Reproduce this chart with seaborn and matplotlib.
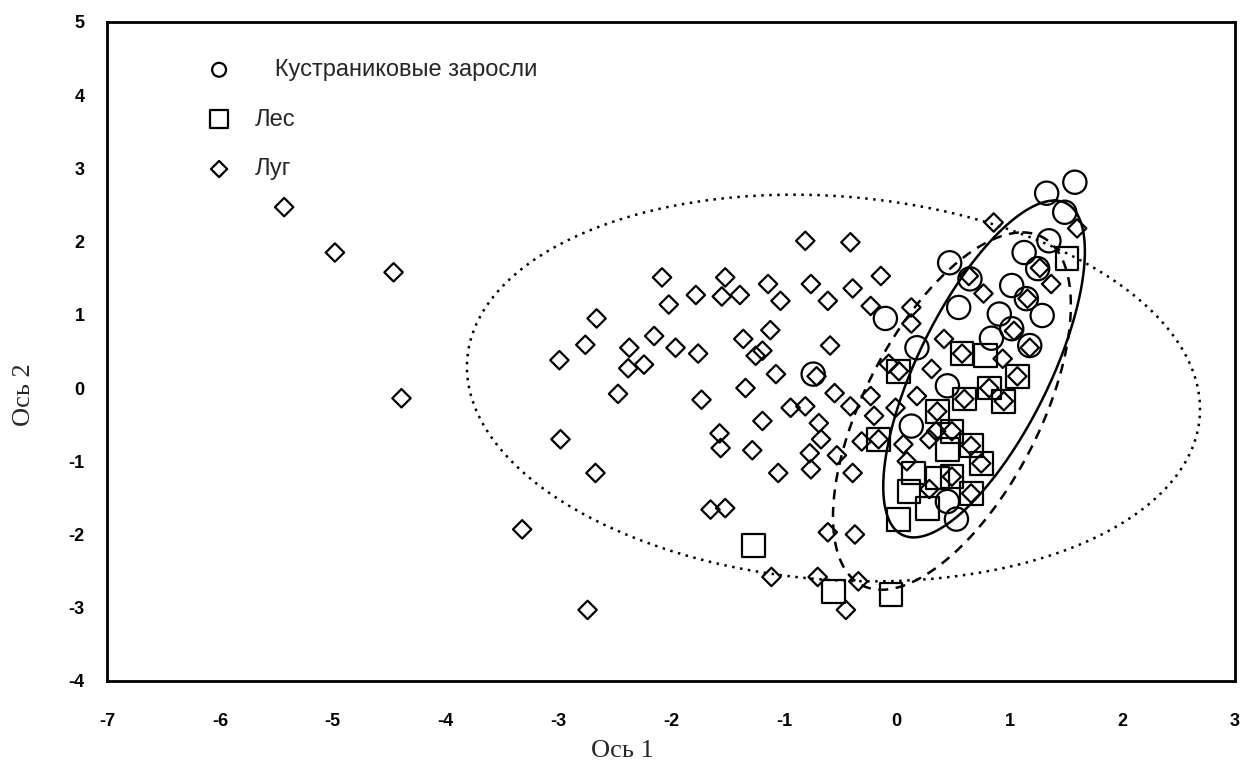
import numpy as np
import pandas as pd
import matplotlib
matplotlib.use("Agg")
import matplotlib.pyplot as plt
import seaborn as sns

# ---------------- data ----------------
groups = ["Кустраниковые заросли", "Лес", "Луг"]

shrub_x = [1.58, 1.33, 1.49, 1.35, 1.13, 1.25, 0.47, 0.65, 0.55, 1.02, 1.15, 0.91,
           1.29, 1.02, 0.84, 1.18, -0.10, 0.18, 0.45, 0.13, -0.74, 0.53, 0.45]
shrub_y = [2.81, 2.66, 2.40, 2.01, 1.85, 1.63, 1.71, 1.49, 1.10, 1.40, 1.22, 1.01,
           0.99, 0.81, 0.68, 0.58, 0.95, 0.55, 0.03, -0.52, 0.19, -1.79, -1.55]

forest_x = [1.51, 0.58, 0.79, 1.07, 0.82, 0.95, 0.60, 0.36, 0.49, 0.45, 0.66, 0.75,
            0.15, 0.36, 0.49, 0.11, 0.66, 0.27, 0.02, -0.16, 0.02, -1.27, -0.56, -0.05]
forest_y = [1.77, 0.47, 0.44, 0.16, 0.00, -0.18, -0.15, -0.32, -0.59, -0.84, -0.79, -1.03,
            -1.16, -1.23, -1.21, -1.41, -1.44, -1.64, -1.79, -0.70, 0.23, -2.15, -2.78, -2.82]

meadow_x = [-5.43, -4.98, -4.46, -4.39, -3.32, -2.74, -2.99, -2.76, -2.66, -2.98, -2.67,
            -2.47, -2.38, -2.24, -2.37, -2.15, -2.08, -2.02, -1.96, -1.78, -1.76, -1.73,
            -1.65, -1.52, -1.57, -1.56, -1.52, -1.55, -1.39, -1.36, -1.34, -1.28, -1.25,
            -1.19, -1.19, -1.14, -1.12, -1.11, -1.07, -1.05, -1.03, -0.94, -0.81, -0.81,
            -0.76, -0.77, -0.76, -0.70, -0.69, -0.67, -0.61, -0.61, -0.59, -0.55, -0.53,
            -0.45, -0.41, -0.41, -0.39, -0.39, -0.37, -0.34, -0.31, -0.23, -0.23, -0.71,
            -0.14, 0.13, 0.13, -0.07, -0.01, 0.18, 0.31, 0.42, -0.20, -0.16, 0.06, 0.09,
            0.29, 0.35, 0.49, 0.66, 0.75, 0.49, 0.66, 0.29, 0.58, 0.77, 0.86, 1.60, 1.27,
            1.37, 1.16, 1.04, 1.18, 0.94, 0.82, 1.07, 0.95, 0.60, 0.64, 0.36, 0.02]
meadow_y = [2.47, 1.85, 1.58, -0.14, -1.93, -3.03, 0.38, 0.59, 0.95, -0.70, -1.16,
            -0.08, 0.27, 0.32, 0.55, 0.71, 1.51, 1.14, 0.55, 1.27, 0.47, -0.16,
            -1.66, -1.64, -0.62, -0.82, 1.51, 1.25, 1.27, 0.67, 0.00, -0.85, 0.44,
            0.51, -0.45, 1.42, 0.79, -2.58, 0.19, -1.16, 1.19, -0.27, 2.01, -0.25,
            1.42, -0.89, -1.11, -2.58, -0.48, -0.70, 1.19, -1.97, 0.58, -0.07, -0.92,
            -3.03, 1.99, -0.25, 1.36, -1.16, -2.00, -2.64, -0.73, 1.12, -0.11, 0.16,
            1.53, 1.10, 0.88, 0.33, -0.27, -0.11, 0.26, 0.67, -0.38, -0.70, -0.77, -1.00,
            -0.70, -0.59, -0.59, -0.79, -1.03, -1.21, -1.44, -1.38, 0.47, 1.29, 2.26, 2.18, 1.64,
            1.42, 1.22, 0.78, 0.55, 0.40, 0.00, 0.16, -0.18, -0.15, 1.53, -0.32, 0.23]

# ellipse parameters per group: centre, conjugate semi-diameters (u: to top point, v: horizontal)
ell_cx = [0.775, 0.49, -0.56]
ell_cy = [0.26, -0.315, 0.00]
ell_ux = [0.624, 0.624, -0.356]
ell_uy = [2.30, 2.44, 2.64]
ell_vx = [0.64, 0.85, 3.23]

x_ticks = [-7, -6, -5, -4, -3, -2, -1, 0, 1, 2, 3]
y_ticks = [-4, -3, -2, -1, 0, 1, 2, 3, 4, 5]

# ---------------- build frame ----------------
df = pd.concat([
    pd.DataFrame({"x": shrub_x, "y": shrub_y, "g": groups[0]}),
    pd.DataFrame({"x": forest_x, "y": forest_y, "g": groups[1]}),
    pd.DataFrame({"x": meadow_x, "y": meadow_y, "g": groups[2]}),
], ignore_index=True)

sns.set_style("white")
plt.rcParams["font.family"] = ["Liberation Sans", "DejaVu Sans"]

fig = plt.figure(figsize=(12.45, 7.8), dpi=100)
ax = fig.add_axes([0.086, 0.127, 0.906, 0.845])

markers = {groups[0]: "o", groups[1]: "s", groups[2]: "D"}
sizes = {groups[0]: 280, groups[1]: 270, groups[2]: 88}
leg_sizes = [100, 170, 68]
labels = {groups[0]: "   Кустраниковые заросли", groups[1]: "Лес", groups[2]: "Луг"}

for g in groups:
    sub = df[df["g"] == g]
    sns.scatterplot(data=sub, x="x", y="y", marker=markers[g], s=sizes[g],
                    facecolor="none", edgecolor="black", color="black",
                    linewidth=1.6, ax=ax, label=labels[g], zorder=3)

# ellipses
styles = ["-", (0, (4, 3)), (0, (1, 2.2))]
t = np.linspace(0, 2 * np.pi, 500)
for i in range(3):
    ex = ell_cx[i] + ell_ux[i] * np.cos(t) + ell_vx[i] * np.sin(t)
    ey = ell_cy[i] + ell_uy[i] * np.cos(t)
    ax.plot(ex, ey, color="black", lw=1.8, linestyle=styles[i], zorder=2)

ax.set_xlim(-7, 3)
ax.set_ylim(-4, 5)
ax.set_xticks(x_ticks)
ax.set_yticks(y_ticks)
ax.set_xticklabels([str(v) for v in x_ticks], fontsize=13, fontweight="bold")
ax.set_yticklabels([str(v) for v in y_ticks], fontsize=13, fontweight="bold")
ax.tick_params(direction="in", length=3, width=1.2, colors="black")
ax.tick_params(axis="x", pad=23)
ax.tick_params(axis="y", pad=16)

for sp in ax.spines.values():
    sp.set_color("black")
    sp.set_linewidth(2)

ax.set_xlabel("Ось 1", fontsize=19, family=["Liberation Serif", "DejaVu Serif"],
              labelpad=7, x=0.457)
ax.set_ylabel("Ось 2", fontsize=19, family=["Liberation Serif", "DejaVu Serif"],
              labelpad=24, y=0.434)

leg = ax.legend(loc="upper left", bbox_to_anchor=(0.07, 0.958), frameon=False,
                fontsize=17, labelspacing=1.17, handletextpad=0.5,
                borderaxespad=0)
for h, s in zip(leg.legend_handles, leg_sizes):
    h.set_sizes([s])

fig.savefig("out.png", dpi=100, facecolor="white")
